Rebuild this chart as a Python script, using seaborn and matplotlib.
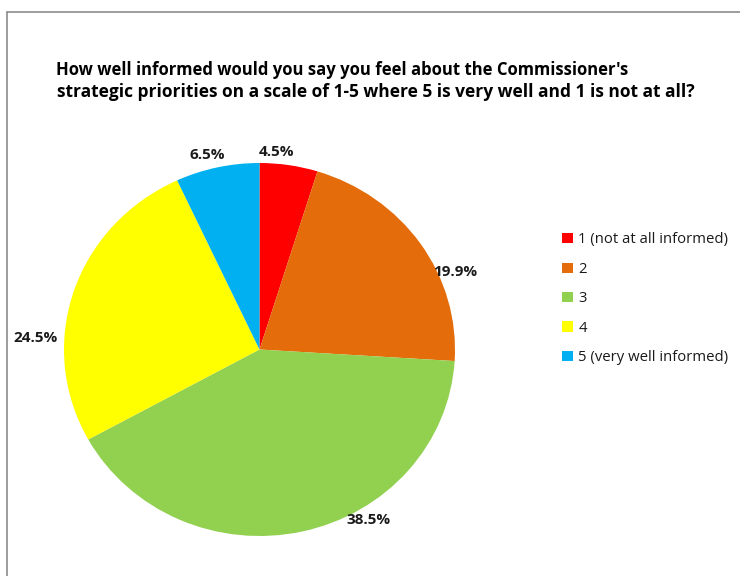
import numpy as np
import matplotlib
matplotlib.use("Agg")
import matplotlib.pyplot as plt
from matplotlib.lines import Line2D
from matplotlib.patches import Patch
import seaborn as sns

# Survey responses (share of all respondents, %)
categories = ["1 (not at all informed)", "2", "3", "4", "5 (very well informed)"]
shares = [4.5, 19.9, 38.5, 24.5, 6.5]
slice_colors = ["#FF0000", "#E46C0A", "#92D050", "#FFFF00", "#00B0F0"]
title_lines = ["How well informed would you say you feel about the Commissioner's",
               "strategic priorities on a scale of 1-5 where 5 is very well and 1 is not at all?"]

# Where each value label sits: (angle in degrees, radius) around the pie centre
label_spots = [(85.4, 1.06), (22.6, 1.085), (-58.7, 1.07), (176.9, 1.145), (104.5, 1.077)]

sns.set_theme(style="white")
plt.rcParams["font.family"] = ["Open Sans", "DejaVu Sans"]
palette = sns.color_palette(slice_colors)

fig = plt.figure(figsize=(7.4, 5.76), dpi=100)
fig.patch.set_facecolor("white")

W, H = 740, 576
# pie slightly wider than tall, as drawn by the original chart engine
left_px, right_px, top_px, bottom_px = 64, 455, 163, 536
ax = fig.add_axes([left_px / W, 1 - bottom_px / H,
                   (right_px - left_px) / W, (bottom_px - top_px) / H])

wedges, _ = ax.pie(shares, colors=palette, startangle=90, counterclock=False,
                   wedgeprops=dict(linewidth=0))
ax.set_aspect("auto")
ax.set_xlim(-1, 1)
ax.set_ylim(-1, 1)
ax.axis("off")

for val, (ang, rad) in zip(shares, label_spots):
    t = np.deg2rad(ang)
    ax.text(rad * np.cos(t), rad * np.sin(t), f"{val:.1f}%", ha="center", va="center",
            fontsize=11, fontweight="bold", color="#1a1a1a", clip_on=False)

# two-line title, each line placed on its own baseline
for (x_px, y_px, size), line in zip([(56, 75, 12.0), (57, 97, 12.5)], title_lines):
    fig.text(x_px / W, 1 - y_px / H, line, ha="left", va="baseline", fontsize=size,
             fontweight="bold", color="black")

handles = [Patch(facecolor=c, edgecolor="none") for c in palette]
fig.legend(handles, categories, loc="upper left", bbox_to_anchor=(555 / W, 1 - 225 / H),
           frameon=False, fontsize=10.7, handlelength=0.68, handleheight=0.68,
           handletextpad=0.4, labelspacing=0.97, borderpad=0, labelcolor="#1a1a1a")

# chart-area border (cropped on the right and bottom)
border = dict(color="#8c8c8c", linewidth=1.2, transform=fig.transFigure)
fig.add_artist(Line2D([7 / W, 1.01], [1 - 12 / H, 1 - 12 / H], **border))
fig.add_artist(Line2D([7 / W, 7 / W], [1 - 12 / H, -0.01], **border))

fig.savefig("out.png", dpi=100, facecolor="white")
